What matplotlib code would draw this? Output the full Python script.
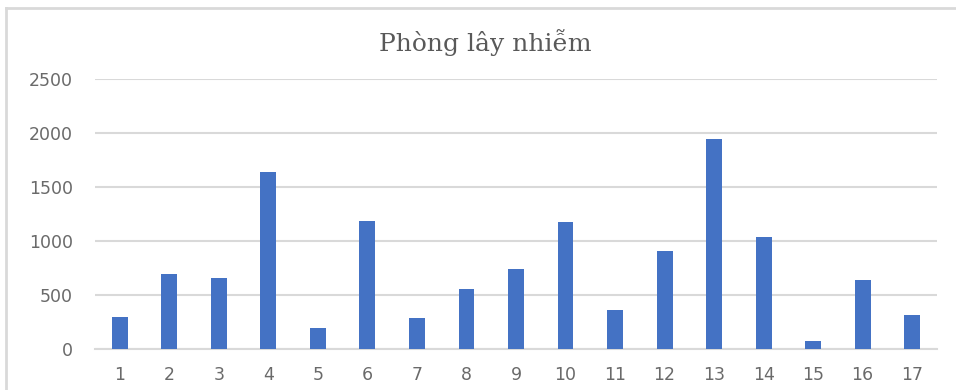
import numpy as np
import matplotlib.pyplot as plt
from matplotlib.lines import Line2D

# Số ca theo phòng
phong = [str(i) for i in range(1, 18)]
so_ca = [300, 700, 660, 1640, 200, 1190, 290, 560, 740, 1180,
         360, 910, 1950, 1040, 75, 640, 320]
yticks = [0, 500, 1000, 1500, 2000, 2500]

fig = plt.figure(figsize=(9.56, 3.9), dpi=100)
ax = fig.add_axes([0.0994, 0.1044, 0.8807, 0.6923])

x = np.arange(len(phong))
ax.bar(x, so_ca, width=0.32, color='#4472C4', zorder=3)

ax.set_xlim(-0.5, len(phong) - 0.5)
ax.set_ylim(0, 2500)
ax.set_yticks(yticks)
ax.set_xticks(x)
ax.set_xticklabels(phong)

ax.grid(axis='y', color='#d9d9d9', linewidth=1.5, zorder=0)
for s in ['top', 'right', 'left']:
    ax.spines[s].set_visible(False)
ax.spines['bottom'].set_color('#d9d9d9')
ax.spines['bottom'].set_linewidth(1.5)
ax.tick_params(axis='both', length=0, colors='#6a6a6a', labelsize=12.5,
               labelfontfamily='DejaVu Sans')
ax.tick_params(axis='y', pad=16)
ax.tick_params(axis='x', pad=12)

fig.text(0.508, 0.89, 'Phòng lây nhiễm', ha='center', va='center',
         fontsize=18, family='DejaVu Serif', color='#595959')

# khung biểu đồ
fig.add_artist(Line2D([6 / 956, 6 / 956], [0, 1 - 8 / 390],
                      color='#d9d9d9', linewidth=2))
fig.add_artist(Line2D([6 / 956, 1], [1 - 8 / 390, 1 - 8 / 390],
                      color='#d9d9d9', linewidth=2))

fig.savefig('out.png', dpi=100)
